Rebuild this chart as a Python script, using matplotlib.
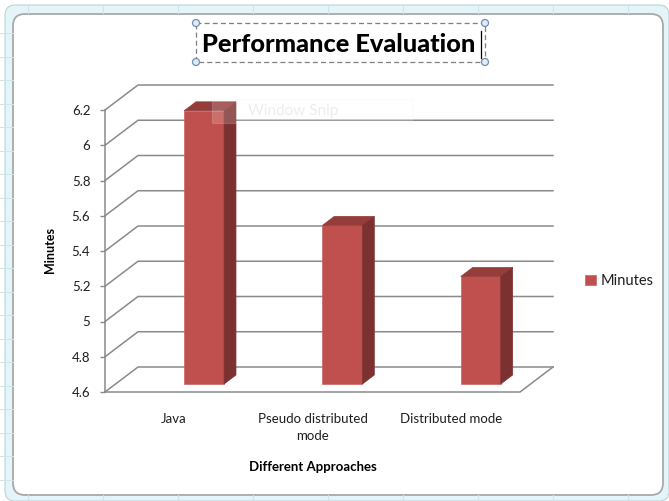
import numpy as np
import matplotlib.pyplot as plt
from matplotlib.patches import Polygon, FancyBboxPatch, Rectangle, Circle

plt.rcParams['font.family'] = ['Lato', 'DejaVu Sans']

# data
categories = ["Java", "Pseudo distributed\nmode", "Distributed mode"]
minutes = [6.15, 5.50, 5.21]
y_ticks = [4.6, 4.8, 5.0, 5.2, 5.4, 5.6, 5.8, 6.0, 6.2]
y_tick_labels = ["4.6", "4.8", "5", "5.2", "5.4", "5.6", "5.8", "6", "6.2"]
series_name = "Minutes"
title = "Performance Evaluation"
x_title = "Different Approaches"
y_title = "Minutes"

W, H = 669, 501
FRONT = "#C0504D"
SIDE = "#7C3130"
TOP = "#943D3B"
GRID = "#8A8A8A"
TXT = "#1E1E1E"


def fx(px):
    return px / W


def fy(py):
    return 1 - py / H


fig = plt.figure(figsize=(W / 100, H / 100), dpi=100)
fig.patch.set_facecolor("white")

# background: excel sheet + chart area frame
bg = fig.add_axes([0, 0, 1, 1], zorder=0)
bg.set_xlim(0, W)
bg.set_ylim(H, 0)
bg.axis("off")
bg.add_patch(FancyBboxPatch((5, 5), 664, 496, boxstyle="round,pad=0,rounding_size=10",
                            facecolor="#E4F5F9", edgecolor="#BCD3D9", lw=0.8))
for x in np.arange(28, W, 75):
    bg.plot([x, x], [5, 13], color="#CFE3E8", lw=0.8)
    bg.plot([x, x], [495, 501], color="#CFE3E8", lw=0.8)
for y in np.arange(33, H, 23.5):
    bg.plot([0, 13], [y, y], color="#D2E4E8", lw=0.7)
bg.add_patch(FancyBboxPatch((13, 14), 650, 481, boxstyle="round,pad=0,rounding_size=12",
                            facecolor="white", edgecolor="#A9A9A9", lw=1.3))

# chart axes; pixel geometry of excel's 3d plot area
px_per_cat = 415 / 3
px_per_val = 282 / 1.6
ddx = 33 / px_per_cat   # depth vector in data units
ddy = 25 / px_per_val
base = 4.6
left_px, right_px, top_px, bot_px = 100, 560, 75, 400
ax = fig.add_axes([fx(left_px), fy(bot_px), (right_px - left_px) / W, (bot_px - top_px) / H],
                  zorder=1)
ax.patch.set_alpha(0)
ax.set_xlim(-0.5 + (left_px - 105) / px_per_cat, -0.5 + (right_px - 105) / px_per_cat)
ax.set_ylim(base + (392 - bot_px) / px_per_val, base + (392 - top_px) / px_per_val)

n = len(categories)
x_lo, x_hi = -0.5, n - 0.5

# back wall gridlines + side diagonals
for v in y_ticks:
    ax.plot([x_lo, x_lo + ddx, x_hi + ddx], [v, v + ddy, v + ddy], color=GRID, lw=1.1, zorder=1)
# floor
ax.plot([x_lo, x_hi, x_hi + ddx], [base, base, base + ddy], color=GRID, lw=1.1, zorder=1)

# 3d columns
bar_w = 40 / px_per_cat
shift = 0.14
f0 = 0.32     # depth where the front face sits
t = 0.36      # column depth
xs = np.arange(n) + shift + f0 * ddx
vals = np.array(minutes)
bars = ax.bar(xs, vals - base, bottom=base + f0 * ddy, width=bar_w, color=FRONT,
              edgecolor="#C96461", lw=0.5, zorder=3, label=series_name)
for xc, v in zip(xs, vals):
    xl, xr = xc - bar_w / 2, xc + bar_w / 2
    yb, yt = base + f0 * ddy, v + f0 * ddy
    top = Polygon([(xl, yt), (xr, yt), (xr + t * ddx, yt + t * ddy), (xl + t * ddx, yt + t * ddy)],
                  closed=True, facecolor=TOP, edgecolor=TOP, lw=0.5, zorder=3)
    side = Polygon([(xr, yb), (xr, yt), (xr + t * ddx, yt + t * ddy), (xr + t * ddx, yb + t * ddy)],
                   closed=True, facecolor=SIDE, edgecolor=SIDE, lw=0.5, zorder=3)
    ax.add_patch(top)
    ax.add_patch(side)

# axes
for s in ["top", "right", "bottom"]:
    ax.spines[s].set_visible(False)
ax.spines["left"].set_position(("data", x_lo))
ax.spines["left"].set_bounds(y_ticks[0], y_ticks[-1])
ax.spines["left"].set_color(GRID)
ax.spines["left"].set_linewidth(1.1)
ax.set_yticks(y_ticks, y_tick_labels)
ax.tick_params(axis="y", direction="out", length=3.6, width=1, color=GRID,
               labelsize=9.5, labelcolor=TXT, pad=7)
ax.set_xticks(np.arange(n), categories)
ax.tick_params(axis="x", length=0, labelsize=9.5, labelcolor=TXT, pad=9.5)
for lab in ax.get_xticklabels():
    lab.set_linespacing(1.5)

ax.legend(handles=[bars], labels=[series_name], loc="center left",
          bbox_to_anchor=(fx(585), fy(281)), bbox_transform=fig.transFigure,
          frameon=False, handlelength=0.75, handleheight=0.75, handletextpad=0.3,
          borderpad=0, borderaxespad=0, prop={"size": 10.5}, labelcolor=TXT)

# overlay: titles, selection box, snip ghost
top_ax = fig.add_axes([0, 0, 1, 1], zorder=2)
top_ax.set_xlim(0, W)
top_ax.set_ylim(H, 0)
top_ax.axis("off")
top_ax.patch.set_alpha(0)

top_ax.text(339, 44, title, ha="center", va="center", fontsize=18.3, fontweight="black",
            color="black")
top_ax.add_patch(Rectangle((196, 23), 289, 39, fill=False, edgecolor="#7F7F7F", lw=0.9,
                           linestyle=(0, (4, 2.5))))
for cx, cy in [(196, 23), (485, 23), (196, 62), (485, 62)]:
    top_ax.add_patch(Circle((cx, cy), 3.5, facecolor="#E3ECF5", edgecolor="#6F90B2", lw=0.9))
top_ax.plot([481, 481], [31, 58], color="black", lw=0.9)

top_ax.text(50, 250, y_title, rotation=90, ha="center", va="center", fontsize=9,
            fontweight="bold", color="black")
top_ax.text(313, 467, x_title, ha="center", va="center", fontsize=9.5,
            fontweight="bold", color="black")

top_ax.add_patch(Rectangle((212, 99), 200, 24, facecolor="white", alpha=0.18,
                           edgecolor="#EEEEEE", lw=0.8))
top_ax.text(248, 111, "Window Snip", ha="left", va="center", fontsize=11, color="#EDEDED")

fig.savefig("out.png", dpi=100)
